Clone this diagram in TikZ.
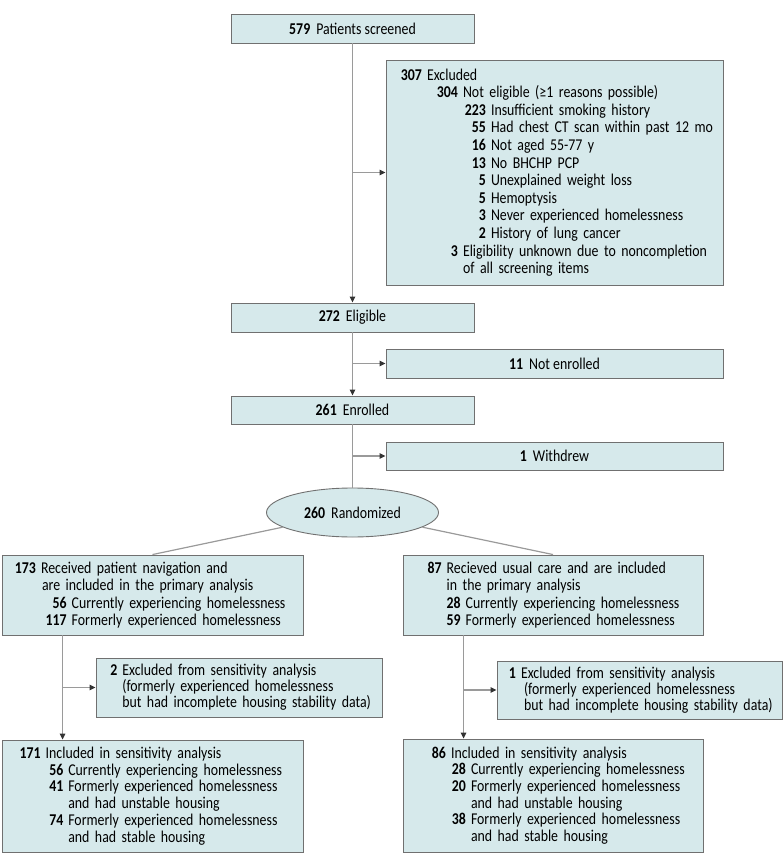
\documentclass[tikz,border=0pt]{standalone}
\usepackage{fontspec}
\setmainfont[FakeStretch=0.84]{Carlito}
\usepackage{xcolor}
\usepackage{tikz}
\usetikzlibrary{shapes.geometric, positioning, arrows.meta, calc}

\definecolor{boxfill}{HTML}{D6E9EB}
\definecolor{boxline}{HTML}{707070}
\definecolor{linkline}{HTML}{9A9A9A}
\definecolor{tipcol}{HTML}{333333}

% number column: right aligned count, then the text
\newcommand{\cnt}[3]{\makebox[#1pt][r]{\textbf{#2}}\hspace{5pt}\mbox{#3}}
\newcommand{\cont}[2]{\hspace*{#1pt}\mbox{#2}}

\begin{document}
\begin{tikzpicture}[
    x=1pt, y=-1pt,
    mainbox/.style={draw=boxline, fill=boxfill, line width=0.9pt, rectangle, inner sep=0pt, align=center,
        font=\fontsize{16.5}{17.6}\selectfont},
    listbox/.style={mainbox, inner xsep=6pt, align=left},
    randnode/.style={draw=boxline, fill=boxfill, line width=0.9pt, ellipse, inner sep=0pt,
        minimum width=172pt, minimum height=49pt, font=\fontsize{16.5}{17.6}\selectfont},
    link/.style={draw=linkline, line width=1.2pt},
    arr/.style={link, -{Triangle[length=6pt, width=5.5pt, color=tipcol]}}
]
    \useasboundingbox (0,0) rectangle (783,866);

    % Main column
    \node[mainbox, minimum width=243pt, minimum height=29pt] (screen) at (352.5,28.5)
        {\textbf{579}\hspace{6pt}Patients screened};
    \node[mainbox, minimum width=243pt, minimum height=29pt] (elig) at (352.5,317.5)
        {\textbf{272}\hspace{6pt}Eligible};
    \node[mainbox, minimum width=243pt, minimum height=28pt] (enr) at (352.5,410)
        {\textbf{261}\hspace{6pt}Enrolled};
    \node[randnode] (rand) at (352.5,512.5) {\textbf{260}\hspace{6pt}Randomized};

    % Exclusions on the right
    \node[listbox, text width=325pt, minimum height=225pt] (excl) at (554.5,172.5) {%
        \cnt{30}{307}{Excluded}\\
        \cnt{66}{304}{Not eligible (≥1 reasons possible)}\\
        \cnt{94}{223}{Insufficient smoking history}\\
        \cnt{94}{55}{Had chest CT scan within past 12 mo}\\
        \cnt{94}{16}{Not aged 55-77 y}\\
        \cnt{94}{13}{No BHCHP PCP}\\
        \cnt{94}{5}{Unexplained weight loss}\\
        \cnt{94}{5}{Hemoptysis}\\
        \cnt{94}{3}{Never experienced homelessness}\\
        \cnt{94}{2}{History of lung cancer}\\
        \cnt{66}{3}{Eligibility unknown due to noncompletion}\\
        \cont{71}{of all screening items}};
    \node[mainbox, minimum width=337pt, minimum height=29pt] (notenr) at (554.5,363.5)
        {\textbf{11}\hspace{6pt}Not enrolled};
    \node[mainbox, minimum width=337pt, minimum height=28pt] (wdrew) at (554.5,456)
        {\textbf{1}\hspace{6pt}Withdrew};

    % Randomized groups
    \node[listbox, text width=289pt, minimum height=80pt] (navgrp) at (152.5,595) {%
        \cnt{28}{173}{Received patient navigation and}\\
        \cont{34}{are included in the primary analysis}\\
        \cnt{58.7}{56}{Currently experiencing homelessness}\\
        \cnt{58.7}{117}{Formerly experienced homelessness}};
    \node[listbox, text width=288pt, minimum height=80pt] (ucgrp) at (553,595) {%
        \cnt{32.7}{87}{Recieved usual care and are included}\\
        \cont{37.7}{in the primary analysis}\\
        \cnt{51.7}{28}{Currently experiencing homelessness}\\
        \cnt{51.7}{59}{Formerly experienced homelessness}};

    % Sensitivity exclusions
    \node[listbox, text width=274pt, minimum height=59pt,
        font=\fontsize{16.5}{16}\selectfont] (exnav) at (239,687.5) {%
        \cnt{15.3}{2}{Excluded from sensitivity analysis}\\
        \cont{20.3}{(formerly experienced homelessness}\\
        \cont{20.3}{but had incomplete housing stability data)}};
    \node[listbox, text width=273.5pt, minimum height=58pt,
        font=\fontsize{16.5}{16}\selectfont] (exuc) at (639.75,690) {%
        \cnt{13}{1}{Excluded from sensitivity analysis}\\
        \cont{21}{(formerly experienced homelessness}\\
        \cont{21}{but had incomplete housing stability data)}};

    % Sensitivity analysis
    \node[listbox, text width=289pt, minimum height=112pt,
        font=\fontsize{16.5}{16.7}\selectfont] (sensnav) at (152.5,796) {%
        \cnt{32.7}{171}{Included in sensitivity analysis}\\
        \cnt{55.3}{56}{Currently experiencing homelessness}\\
        \cnt{55.3}{41}{Formerly experienced homelessness}\\
        \cont{60.3}{and had unstable housing}\\
        \cnt{55.3}{74}{Formerly experienced homelessness}\\
        \cont{60.3}{and had stable housing}};
    \node[listbox, text width=288pt, minimum height=113pt,
        font=\fontsize{16.5}{16.7}\selectfont] (sensuc) at (553,795.5) {%
        \cnt{37}{86}{Included in sensitivity analysis}\\
        \cnt{57}{28}{Currently experiencing homelessness}\\
        \cnt{57}{20}{Formerly experienced homelessness}\\
        \cont{62}{and had unstable housing}\\
        \cnt{57}{38}{Formerly experienced homelessness}\\
        \cont{62}{and had stable housing}};

    % Trunk points of the two arms
    \coordinate (navtop) at ([xshift=61pt]navgrp.south west);
    \coordinate (navbot) at ([xshift=61pt]sensnav.north west);
    \coordinate (uctop) at ([xshift=61pt]ucgrp.south west);
    \coordinate (ucbot) at ([xshift=61pt]sensuc.north west);

    % Connections
    \draw[arr] (screen) -- (elig);
    \draw[arr] (screen.south |- excl.west) -- (excl);
    \draw[arr] (elig) -- (enr);
    \draw[arr] (elig.south |- notenr.west) -- (notenr);
    \draw[link] (enr) -- (rand);
    \draw[arr] (enr.south |- wdrew.west) -- (wdrew);

    \draw[link] (rand) -- (navgrp.north);
    \draw[link] (rand) -- (ucgrp.north);

    \draw[arr] (navtop) -- (navbot);
    \draw[arr] (navtop |- exnav.west) -- (exnav);
    \draw[arr] (uctop) -- (ucbot);
    \draw[arr] (uctop |- exuc.west) -- (exuc);

\end{tikzpicture}
\end{document}
